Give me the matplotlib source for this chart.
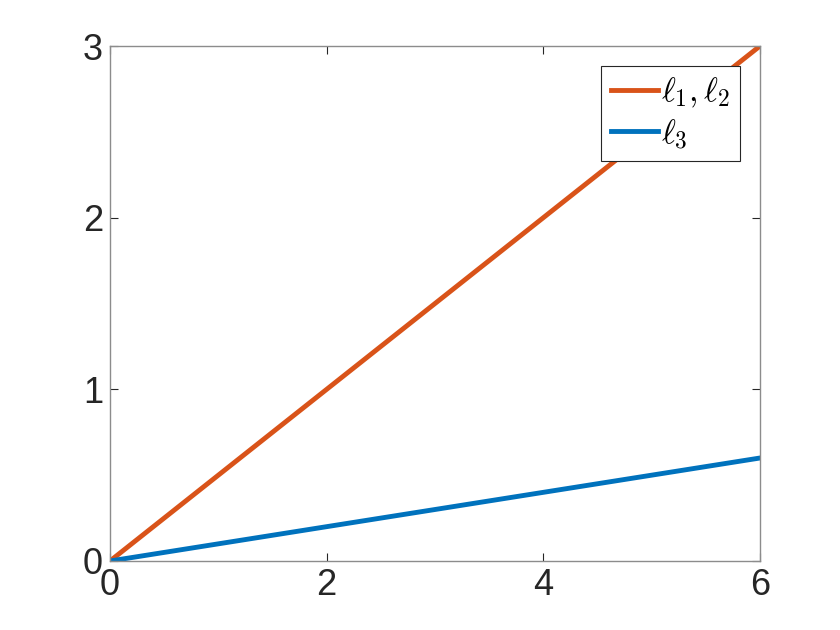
import numpy as np
import matplotlib.pyplot as plt

plt.rcParams['font.family'] = ['Liberation Sans', 'DejaVu Sans']
plt.rcParams['mathtext.fontset'] = 'cm'

# datos de las rectas
x = [0, 6]
y12 = [0, 3]
y3 = [0, 0.6]
xticks = [0, 2, 4, 6]
yticks = [0, 1, 2, 3]

fig = plt.figure(figsize=(8.4, 6.3), dpi=100)
ax = fig.add_axes([110/840, 69/630, 650/840, 515/630])

ax.plot(x, y12, color='#D95319', lw=3.5, label=r'$\ell_1, \ell_2$')
ax.plot(x, y3, color='#0072BD', lw=3.5, label=r'$\ell_3$')

ax.set_xlim(0, 6); ax.set_ylim(0, 3)
ax.set_xticks(xticks); ax.set_yticks(yticks)
ax.tick_params(direction='in', top=True, right=True, labelsize=26,
               length=6, color='#262626', labelcolor='#262626', pad=5)
for s in ax.spines.values():
    s.set_color('#8c8c8c')
    s.set_linewidth(1)

leg = ax.legend(loc='upper right', bbox_to_anchor=(630/650, 1 - 20/515),
                fontsize=24, fancybox=False, edgecolor='#262626', framealpha=1,
                handlelength=1.4, handletextpad=0.1, borderpad=0.3,
                borderaxespad=0, labelspacing=0.2)
leg.get_frame().set_linewidth(0.8)

fig.savefig('out.png', dpi=100)
